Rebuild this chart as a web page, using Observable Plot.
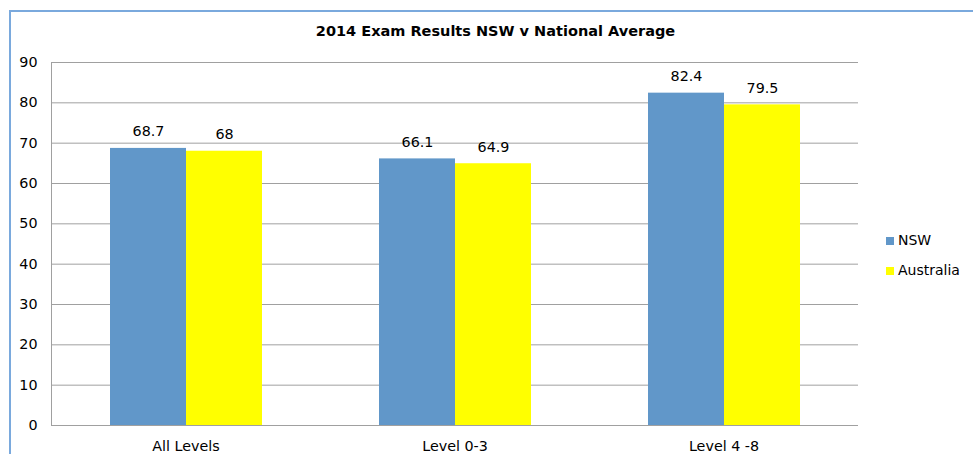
<!DOCTYPE html>
<html><head><meta charset="utf-8">
<script src="https://cdn.jsdelivr.net/npm/d3@7"></script>
<script src="https://cdn.jsdelivr.net/npm/@observablehq/plot@0.6"></script>
<style>
body{margin:0;background:#fff;}
#wrap{position:relative;width:973px;height:454px;overflow:hidden;font-family:"DejaVu Sans",sans-serif;color:#000;}
#border{position:absolute;left:9px;top:10px;width:1100px;height:600px;border-left:2px solid #7aa9dd;border-top:2px solid #7aa9dd;}
#chart{position:absolute;left:0;top:0;}
#chart svg text{fill:#000;}
#title{position:absolute;top:23px;left:0;width:991px;text-align:center;font-weight:bold;font-size:14.5px;line-height:17px;}
.leg{position:absolute;left:886px;font-size:14px;line-height:16px;white-space:nowrap;}
.sw{display:inline-block;width:8px;height:8px;margin-right:4px;vertical-align:0px;}
</style></head>
<body>
<div id="wrap">
  <div id="border"></div>
  <div id="chart"></div>
  <div id="title">2014 Exam Results NSW v National Average</div>
  <div id="legend"></div>
</div>
<script>
const categories = ["All Levels", "Level 0-3", "Level 4 -8"];
const series = ["NSW", "Australia"];
const colors = ["#6197c9", "#ffff00"];
const nsw = [68.7, 66.1, 82.4];
const australia = [68, 64.9, 79.5];
const yTicks = [0, 10, 20, 30, 40, 50, 60, 70, 80, 90];

const values = {NSW: nsw, Australia: australia};
const data = categories.flatMap((c, i) => series.map(s => ({category: c, series: s, value: values[s][i]})));

const chart = Plot.plot({
  width: 973,
  height: 454,
  marginLeft: 51,
  marginRight: 115,
  marginTop: 62,
  marginBottom: 29,
  style: {fontFamily: "DejaVu Sans", fontSize: "14.3px", color: "#a0a0a0", background: "transparent", overflow: "visible"},
  fx: {domain: categories, padding: 0, label: null, tickSize: 0, tickPadding: 15},
  x: {domain: series, paddingInner: 0, paddingOuter: 0.75, axis: null},
  y: {domain: [0, 90], ticks: yTicks, tickSize: 0, tickPadding: 14, label: null, line: true},
  color: {domain: series, range: colors},
  marks: [
    Plot.ruleY(yTicks, {stroke: "#a0a0a0"}),
    Plot.barY(data, {fx: "category", x: "series", y: "value", fill: "series"}),
    Plot.text(data, {fx: "category", x: "series", y: "value", text: d => String(d.value), lineAnchor: "bottom", dy: -12, fill: "#000"})
  ]
});
document.getElementById("chart").appendChild(chart);

const legend = document.getElementById("legend");
const legTops = [232, 262];
series.forEach((s, i) => {
  const div = document.createElement("div");
  div.className = "leg";
  div.style.top = legTops[i] + "px";
  const sw = document.createElement("span");
  sw.className = "sw";
  sw.style.background = colors[i];
  div.appendChild(sw);
  div.appendChild(document.createTextNode(s));
  legend.appendChild(div);
});
</script>
</body></html>
